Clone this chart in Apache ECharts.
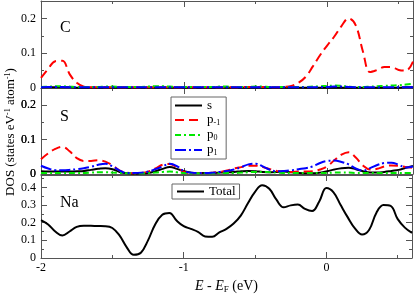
<!DOCTYPE html>
<html><head><meta charset="utf-8">
<script src="https://cdn.jsdelivr.net/npm/echarts@6/dist/echarts.min.js"></script>
<style>html,body{margin:0;padding:0;background:#fff}#c{width:415px;height:295px}</style>
</head><body><div id="c"></div>
<script>
// Energy grid (eV, relative to Fermi level)
const energy = [-2.00,-1.95,-1.90,-1.85,-1.80,-1.75,-1.70,-1.65,-1.60,-1.55,
  -1.50,-1.45,-1.40,-1.35,-1.30,-1.25,-1.20,-1.15,-1.10,-1.05,
  -1.00,-0.95,-0.90,-0.85,-0.80,-0.75,-0.70,-0.65,-0.60,-0.55,
  -0.50,-0.45,-0.40,-0.35,-0.30,-0.25,-0.20,-0.15,-0.10,-0.05,
  0.00,0.05,0.10,0.15,0.20,0.25,0.30,0.35,0.40,0.45,
  0.50,0.55,0.60];

// C panel
const cS = [0.002,0.002,0.002,0.002,0.002,0.001,0.001,0.001,0.001,0.001,
  0.001,0.001,0.001,0.001,0.001,0.001,0.001,0.001,0.001,0.001,
  0.001,0.001,0.001,0.001,0.001,0.001,0.001,0.001,0.001,0.001,
  0.001,0.001,0.001,0.001,0.001,0.001,0.001,0.001,0.001,0.001,
  0.001,0.001,0.001,0.001,0.001,0.001,0.001,0.001,0.001,0.001,
  0.001,0.002,0.002];
const cPm1 = [0.029,0.055,0.077,0.078,0.040,0.015,0.004,0.002,0.002,0.002,
  0.002,0.002,0.002,0.002,0.002,0.002,0.002,0.002,0.002,0.002,
  0.002,0.002,0.002,0.002,0.002,0.002,0.002,0.002,0.003,0.003,
  0.003,0.003,0.002,0.002,0.003,0.006,0.015,0.032,0.062,0.094,
  0.122,0.148,0.178,0.200,0.180,0.105,0.046,0.052,0.060,0.060,
  0.052,0.050,0.076];
const cP0 = [0.003,0.004,0.005,0.005,0.004,0.003,0.003,0.003,0.003,0.004,
  0.004,0.003,0.003,0.003,0.003,0.004,0.005,0.005,0.004,0.003,
  0.003,0.003,0.003,0.003,0.003,0.004,0.004,0.003,0.003,0.003,
  0.004,0.004,0.003,0.003,0.003,0.003,0.003,0.003,0.004,0.005,
  0.006,0.007,0.006,0.004,0.003,0.003,0.004,0.005,0.006,0.007,
  0.008,0.010,0.012];
const cP1 = [0.002,0.003,0.003,0.003,0.002,0.002,0.002,0.002,0.002,0.002,
  0.002,0.002,0.002,0.002,0.002,0.002,0.002,0.002,0.002,0.002,
  0.002,0.002,0.002,0.002,0.002,0.002,0.002,0.002,0.002,0.002,
  0.002,0.002,0.002,0.002,0.002,0.002,0.002,0.002,0.002,0.003,
  0.003,0.004,0.004,0.003,0.002,0.002,0.002,0.002,0.002,0.002,
  0.002,0.002,0.002];

// S panel
const sS = [0.008,0.007,0.007,0.007,0.007,0.008,0.009,0.012,0.015,0.017,
  0.014,0.006,0.002,0.001,0.002,0.003,0.008,0.015,0.020,0.015,
  0.008,0.004,0.003,0.003,0.003,0.004,0.005,0.006,0.008,0.009,
  0.008,0.006,0.005,0.006,0.007,0.005,0.003,0.002,0.002,0.004,
  0.008,0.013,0.017,0.018,0.014,0.008,0.004,0.004,0.006,0.009,
  0.012,0.018,0.023];
const sPm1 = [0.043,0.060,0.073,0.079,0.066,0.046,0.038,0.038,0.040,0.036,
  0.025,0.010,0.004,0.002,0.003,0.007,0.016,0.027,0.029,0.019,
  0.006,0.003,0.003,0.003,0.004,0.006,0.010,0.016,0.020,0.024,
  0.024,0.020,0.014,0.009,0.006,0.006,0.007,0.007,0.008,0.013,
  0.022,0.040,0.056,0.063,0.048,0.025,0.013,0.015,0.022,0.025,
  0.024,0.020,0.018];
const sP0 = [0.003,0.003,0.003,0.003,0.003,0.003,0.003,0.004,0.005,0.005,
  0.004,0.003,0.002,0.002,0.002,0.003,0.004,0.006,0.007,0.005,
  0.003,0.002,0.002,0.002,0.002,0.003,0.003,0.003,0.004,0.005,
  0.006,0.006,0.005,0.004,0.003,0.003,0.003,0.003,0.003,0.003,
  0.003,0.004,0.004,0.004,0.003,0.003,0.003,0.003,0.003,0.003,
  0.003,0.003,0.003];
const sP1 = [0.024,0.016,0.011,0.011,0.012,0.014,0.017,0.021,0.027,0.030,
  0.022,0.010,0.003,0.003,0.004,0.007,0.014,0.022,0.030,0.023,
  0.008,0.004,0.003,0.003,0.004,0.006,0.009,0.013,0.020,0.028,
  0.030,0.022,0.012,0.008,0.009,0.011,0.014,0.017,0.022,0.032,
  0.038,0.039,0.035,0.028,0.016,0.010,0.017,0.026,0.032,0.033,
  0.027,0.019,0.022];

// Na panel
const naTotal = [0.215,0.190,0.150,0.127,0.150,0.176,0.183,0.182,0.181,0.180,
  0.170,0.128,0.062,0.018,0.030,0.100,0.190,0.245,0.255,0.212,
  0.180,0.165,0.148,0.122,0.120,0.145,0.165,0.195,0.240,0.310,
  0.375,0.412,0.392,0.330,0.287,0.298,0.303,0.278,0.266,0.320,
  0.396,0.372,0.300,0.230,0.168,0.133,0.160,0.255,0.300,0.295,
  0.220,0.172,0.142];

const panelNames = ['C', 'S', 'Na'];
const yMax = [0.25, 0.25, 0.47];
const xTickLabels = [-2, -1, 0];
const yTickLabels = [[0, 0.1, 0.2], [0, 0.1, 0.2], [0, 0.1, 0.2, 0.3, 0.4]];

const FONT = '"Liberation Serif", "Times New Roman", serif';
const AX = '#555';
const grids = [
  {left: 41, right: 2, top: 1, height: 87},
  {left: 41, right: 2, top: 88, height: 86},
  {left: 41, right: 2, top: 175, height: 88}
];

const xAxes = [], yAxes = [];
grids.forEach((g, gi) => {
  ['bottom', 'top'].forEach(pos => {
    [1, 0.5].forEach(iv => {
      const major = iv === 1;
      const ax = {
        gridIndex: gi, type: 'value', min: -2, max: 0.6, interval: iv, position: pos,
        axisLine: {show: major, onZero: false, lineStyle: {color: AX, width: 1}},
        axisTick: {show: true, inside: true, length: major ? 6 : 3, lineStyle: {color: AX}},
        axisLabel: {show: major && pos === 'bottom' && gi === 2, margin: 4, color: '#000',
          fontFamily: FONT, fontSize: 12, hideOverlap: false,
          formatter: v => xTickLabels.some(t => Math.abs(t - v) < 1e-6) ? String(Math.round(v)) : ''},
        splitLine: {show: false}
      };
      if (major && pos === 'bottom' && gi === 2) {
        ax.name = '{i|E} - {i|E}{sub|F} (eV)';
        ax.nameLocation = 'middle';
        ax.nameGap = 20;
        ax.nameTextStyle = {color: '#000', fontFamily: FONT, fontSize: 14,
          rich: {i: {fontStyle: 'italic', fontFamily: FONT, fontSize: 14},
                 sub: {fontFamily: FONT, fontSize: 9, padding: [7, 0, 0, 0]}}};
      }
      xAxes.push(ax);
    });
  });
  ['left', 'right'].forEach(pos => {
    [0.1, 0.05].forEach(iv => {
      const major = iv === 0.1;
      // Panel S: labels also carried by the minor left axis (same positions/text)
      const showLab = pos === 'left' && (major || gi === 1);
      yAxes.push({
        gridIndex: gi, type: 'value', min: 0, max: yMax[gi], interval: iv, position: pos,
        axisLine: {show: major, onZero: false, lineStyle: {color: AX, width: 1}},
        axisTick: {show: true, inside: true, length: major ? 6 : 3, lineStyle: {color: AX}},
        axisLabel: {show: showLab, margin: 5, color: '#000', fontFamily: FONT, fontSize: 12,
          formatter: v => {
            const hit = yTickLabels[gi].find(t => Math.abs(t - v) < 1e-6);
            return hit === undefined ? '' : String(hit);
          }},
        splitLine: {show: false}
      });
    });
  });
});

const styles = {
  s: {color: '#000000', type: 'solid'},
  'p-1': {color: '#ff0000', type: [9, 5]},
  p0: {color: '#00e800', type: [6, 3, 2, 3]},
  p1: {color: '#0000ff', type: [11, 3, 2, 3]}
};
function mk(name, gi, arr) {
  const st = styles[name] || {color: '#000', type: 'solid'};
  return {
    name, type: 'line', xAxisIndex: gi * 4, yAxisIndex: gi * 4,
    data: energy.map((e, i) => [e, arr[i]]),
    smooth: 0.4, symbol: 'none', showSymbol: false, animation: false,
    color: st.color,
    lineStyle: {width: 2, color: st.color, type: st.type},
    z: 3
  };
}
const series = [
  mk('s', 0, cS), mk('p-1', 0, cPm1), mk('p0', 0, cP0), mk('p1', 0, cP1),
  mk('s', 1, sS), mk('p-1', 1, sPm1), mk('p0', 1, sP0), mk('p1', 1, sP1),
  mk('Total', 2, naTotal)
];

const legendText = {s: '{t|s}', 'p-1': '{t|p}{sub|-1}', p0: '{t|p}{sub|0}', p1: '{t|p}{sub|1}', Total: '{t|Total}'};
const legRich = {t: {fontFamily: FONT, fontSize: 13, color: '#000'},
  sub: {fontFamily: FONT, fontSize: 8, color: '#000', padding: [6, 0, 0, 0]}};

const graphics = panelNames.map((t, i) => ({
  type: 'text', x: 60, y: [28, 117, 203][i],
  style: {text: t, font: '16px ' + FONT, fill: '#000', verticalAlign: 'middle'}
}));
graphics.push({
  type: 'text', x: 11, y: 132, rotation: Math.PI / 2,
  style: {
    text: '{a|DOS (states eV}{sup|-1}{a| atom}{sup|-1}{a|)}',
    align: 'center', verticalAlign: 'middle', fill: '#000',
    font: '13px ' + FONT,
    rich: {a: {fontFamily: FONT, fontSize: 13, fill: '#000'},
           sup: {fontFamily: FONT, fontSize: 8, fill: '#000', padding: [0, 0, 7, 0]}}
  }
});

const chart = echarts.init(document.getElementById('c'), null, {renderer: 'canvas'});
chart.setOption({
  animation: false,
  backgroundColor: '#fff',
  grid: grids,
  xAxis: xAxes,
  yAxis: yAxes,
  legend: [
    {data: ['s', 'p-1', 'p0', 'p1'], orient: 'vertical', left: 171, top: 97,
     itemWidth: 27, itemHeight: 12, itemGap: 1.5, padding: [2, 6, 2, 3],
     itemStyle: {opacity: 0},
     borderColor: '#666', borderWidth: 1, backgroundColor: '#fff', selectedMode: false,
     formatter: n => legendText[n], textStyle: {rich: legRich}},
    {data: ['Total'], orient: 'vertical', left: 172, top: 184,
     itemWidth: 27, itemHeight: 12, itemGap: 2, padding: [1, 4, 1, 4],
     itemStyle: {opacity: 0},
     borderColor: '#666', borderWidth: 1, backgroundColor: '#fff', selectedMode: false,
     formatter: n => legendText[n], textStyle: {rich: legRich}}
  ],
  graphic: graphics,
  series
});
</script>
</body></html>
